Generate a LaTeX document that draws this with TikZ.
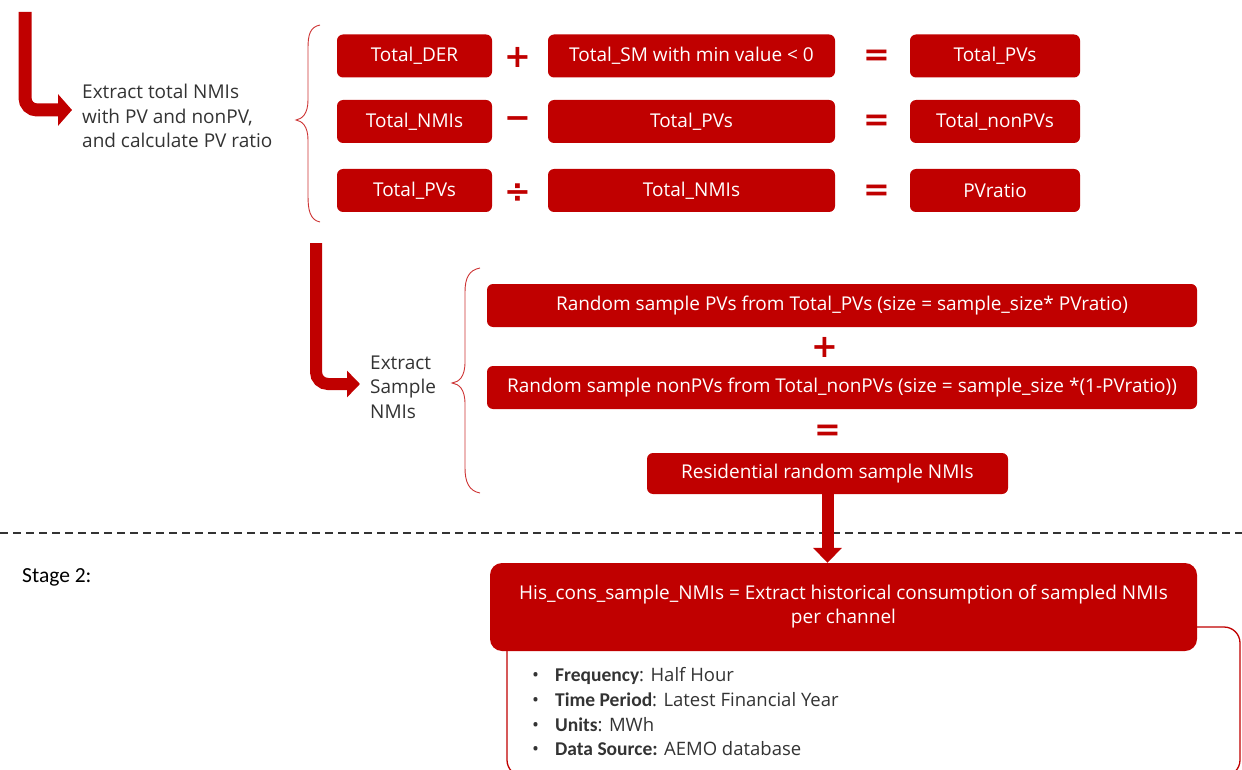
\documentclass[tikz,border=0pt]{standalone}
\usepackage{fontspec}
\setmainfont{Open Sans}
\newfontfamily\calib{Carlito}
\newfontfamily\opfont{DejaVu Sans}
\usetikzlibrary{arrows.meta}
\definecolor{dred}{HTML}{C00000}
\definecolor{txt}{HTML}{333333}
\tikzset{
  rbox/.style={fill=dred, text=white, rounded corners=6pt, inner sep=0pt, font=\fontsize{19}{22}\selectfont, minimum height=43pt},
  opsym/.style={text=dred, font=\opfont\bfseries\fontsize{32}{32}\selectfont, inner sep=0pt},
  plain/.style={text=txt, font=\fontsize{19}{24.5}\selectfont, align=left, inner sep=0pt},
  bigarrow/.style={draw=dred, line width=13pt, rounded corners=12pt, -{Triangle[length=14pt,width=31pt]}},
  bracestyle/.style={draw=dred!80, line width=0.9pt},
  bulletline/.style={text=txt, font=\fontsize{18.5}{20}\selectfont, anchor=west, inner sep=0pt},
  lbl/.style={font=\calib\bfseries\fontsize{19.5}{20}\selectfont, text=black}
}
\begin{document}
\begin{tikzpicture}[x=1pt,y=-1pt]
\useasboundingbox (0,0) rectangle (1242,770);

% ---- Stage 1 top part
\coordinate (a1s) at (25,12);
\node[plain, anchor=west] (ext1) at (82,116) {Extract total NMIs\\with PV and nonPV,\\and calculate PV ratio};
\draw[bigarrow] (a1s) |- ([xshift=-10pt]ext1.west |- 0,110);

% brace 1
\draw[bracestyle] (320,25) .. controls (310,27) and (308,35) .. (308,48) -- (308,100) .. controls (308,114) and (302,119) .. (296,120)
  .. controls (302,121) and (308,126) .. (308,140) -- (308,196) .. controls (308,210) and (310,220) .. (320,222);

% row 1
\node[rbox, minimum width=155pt] (der) at (414.5,56) {Total\_DER};
\node[opsym] (p1) at (518,57) {+};
\node[rbox, minimum width=287pt] (sm) at (691.5,56) {Total\_SM with min value < 0};
\node[opsym] (e1) at (877,58) {=};
\node[rbox, minimum width=170pt] (pv1) at (995,56) {Total\_PVs};
% row 2
\node[rbox, minimum width=155pt] (nmi1) at (414.5,121.5) {Total\_NMIs};
\node[opsym] (m2) at (518,123) {−};
\node[rbox, minimum width=287pt] (pv2) at (691.5,121.5) {Total\_PVs};
\node[opsym] (e2) at (877,123) {=};
\node[rbox, minimum width=170pt] (npv) at (995,121.5) {Total\_nonPVs};
% row 3
\node[rbox, minimum width=155pt] (pv3) at (414.5,190.5) {Total\_PVs};
\node[opsym] (d3) at (518,193) {÷};
\node[rbox, minimum width=287pt] (nmi3) at (691.5,190.5) {Total\_NMIs};
\node[opsym] (e3) at (877,193) {=};
\node[rbox, minimum width=170pt] (ratio) at (995,190.5) {PVratio};

% ---- second arrow and sample
\coordinate (a2s) at (316,243);
\node[plain, anchor=west] (ext2) at (370,387) {Extract\\Sample\\NMIs};
\draw[bigarrow, line width=12pt, -{Triangle[length=13pt,width=26pt]}] (a2s) |- ([xshift=-10pt]ext2.west |- 0,384);

% brace 2
\draw[bracestyle] (480,268) .. controls (469,270) and (465,278) .. (465,292) -- (465,362) .. controls (465,377) and (459,382) .. (452,383)
  .. controls (459,384) and (465,389) .. (465,404) -- (465,468) .. controls (465,482) and (469,491) .. (480,493);

\node[rbox, minimum width=710pt] (s1) at (842,305.5) {Random sample PVs from Total\_PVs (size = sample\_size* PVratio)};
\node[opsym] (p4) at (825,347) {+};
\node[rbox, minimum width=710pt] (s2) at (842,387.5) {Random sample nonPVs from Total\_nonPVs (size = sample\_size *(1-PVratio))};
\node[opsym] (e4) at (828,433) {=};
\node[rbox, minimum width=361pt, minimum height=41pt] (res) at (827.5,473.5) {Residential random sample NMIs};

% ---- dashed separator
\draw[line width=1.4pt, draw=black!80, dash pattern=on 8pt off 5pt] (0,533) -- (1242,533);
\node[font=\calib\fontsize{21.5}{22}\selectfont, text=black, anchor=west, inner sep=0pt] (stage) at (22,577) {Stage 2:};

% ---- stage 2
\draw[draw=dred, line width=1.3pt, rounded corners=16pt] (507,627) rectangle (1240,776);
\node[rbox, minimum width=707pt, minimum height=88pt, rounded corners=12pt, align=center, font=\fontsize{19}{24}\selectfont] (his) at (843.5,607) {His\_cons\_sample\_NMIs = Extract historical consumption of sampled NMIs\\per channel};
\draw[draw=dred, line width=12pt, -{Triangle[length=15pt,width=28pt]}] (res.south) -- (res.south |- his.north);

\node[bulletline] (b1) at (532,676) {•\hspace{16pt}{\calib\bfseries\fontsize{19.5}{20}\selectfont Frequency}: Half Hour};
\node[bulletline] (b2) at (532,700) {•\hspace{16pt}{\calib\bfseries\fontsize{19.5}{20}\selectfont Time Period}: Latest Financial Year};
\node[bulletline] (b3) at (532,725) {•\hspace{16pt}{\calib\bfseries\fontsize{19.5}{20}\selectfont Units}: MWh};
\node[bulletline] (b4) at (532,749) {•\hspace{16pt}{\calib\bfseries\fontsize{19.5}{20}\selectfont Data Source:} AEMO database};
\end{tikzpicture}
\end{document}
